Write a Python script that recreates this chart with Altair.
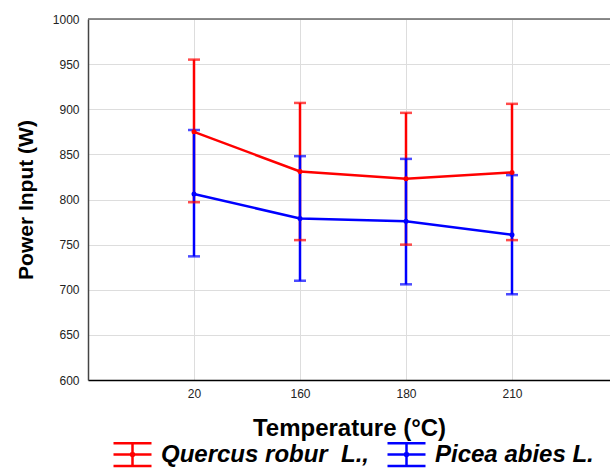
import altair as alt
import pandas as pd

temps = ["20", "160", "180", "210"]
series = ["Quercus robur\u00a0 L.,", "Picea abies L."]
colors = ["#ff0000", "#0000ff"]

quercus_mean = [875, 831, 823, 830]
quercus_hi = [955, 907, 896, 906]
quercus_lo = [797, 755, 750, 755]

picea_mean = [806, 779, 776, 761]
picea_hi = [877, 848, 845, 827]
picea_lo = [737, 710, 706, 695]

rows = []
for s, m, hi, lo in [(series[0], quercus_mean, quercus_hi, quercus_lo),
                     (series[1], picea_mean, picea_hi, picea_lo)]:
    for i, t in enumerate(temps):
        rows.append({"series": s, "idx": i + 1, "temp": t,
                     "mean": m[i], "hi": hi[i], "lo": lo[i]})
df = pd.DataFrame(rows)

W, H = 522, 361
FONT = "Liberation Sans"
label_arr = "[" + ",".join("'%s'" % t for t in temps) + "]"

xs = alt.Scale(domain=[0, W / 106.0], nice=False, zero=False)
ys = alt.Scale(domain=[600, 1000], nice=False, zero=False)
cs = alt.Scale(domain=series, range=colors)

x_axis = alt.Axis(values=[1, 2, 3, 4], labelExpr=label_arr + "[datum.value-1]",
                  title="Temperature (°C)", titleFontSize=24, titleFontWeight="bold",
                  titleFont=FONT, titleX=W / 2, titleY=48, titleBaseline="middle",
                  labelFont=FONT, labelFontSize=12, labelColor="#222",
                  labelPadding=8, ticks=False, grid=True, gridColor="#dddddd",
                  domainColor="#000000", domainWidth=1.5)
y_axis = alt.Axis(values=list(range(600, 1001, 50)), format="d", title="Power Input (W)",
                  titleFontSize=21, titleFontWeight="bold", titleFont=FONT,
                  titleX=-62, titleY=H / 2, titleBaseline="middle", titleAngle=-90,
                  labelFont=FONT, labelFontSize=12, labelColor="#222",
                  labelPadding=9, ticks=False, grid=True, gridColor="#dddddd",
                  domainColor="#444444", domainWidth=1.5)

base = alt.Chart(df)

legend = alt.Legend(
    title=None, orient="none", legendX=24, legendY=415, direction="horizontal",
    symbolType="M-1,-0.6H1M-1,0H1M-1,0.6H1M0,-0.6V0.6M-0.08,0A0.08,0.08 0 1,1 0.08,0A0.08,0.08 0 1,1 -0.08,0",
    symbolSize=1444, symbolStrokeWidth=2.5, symbolFillColor="transparent",
    labelFont=FONT, labelFontSize=24, labelFontWeight="bold", labelFontStyle="italic",
    labelColor="#000", labelOffset=8, columnPadding=12, labelLimit=400,
)

line = base.mark_line(strokeWidth=2.5).encode(
    x=alt.X("idx:Q", scale=xs, axis=x_axis),
    y=alt.Y("mean:Q", scale=ys, axis=y_axis),
    color=alt.Color("series:N", scale=cs, legend=legend),
)
bars = base.mark_rule(strokeWidth=2.5).encode(
    x="idx:Q", y="lo:Q", y2="hi:Q",
    color=alt.Color("series:N", scale=cs, legend=None),
)
caps_hi = base.mark_tick(thickness=2.5, size=12, orient="horizontal").encode(
    x="idx:Q", y="hi:Q", color=alt.Color("series:N", scale=cs, legend=None))
caps_lo = base.mark_tick(thickness=2.5, size=12, orient="horizontal").encode(
    x="idx:Q", y="lo:Q", color=alt.Color("series:N", scale=cs, legend=None))
pts = base.mark_point(filled=True, size=25, opacity=1).encode(
    x="idx:Q", y="mean:Q", color=alt.Color("series:N", scale=cs, legend=None))
top = alt.Chart(pd.DataFrame({"a": [0]})).mark_rule(color="#666666", strokeWidth=1.5).encode(
    x=alt.value(0), x2=alt.value(W), y=alt.value(0))

chart = alt.layer(line, bars, caps_hi, caps_lo, pts, top).properties(
    width=W, height=H,
    autosize=alt.AutoSizeParams(type="none"),
    padding={"left": 88, "top": 19, "right": 0, "bottom": 91},
).configure_view(stroke=None).configure(background="white")

chart.save("out.html", embed_options={"renderer": "svg", "actions": False})
